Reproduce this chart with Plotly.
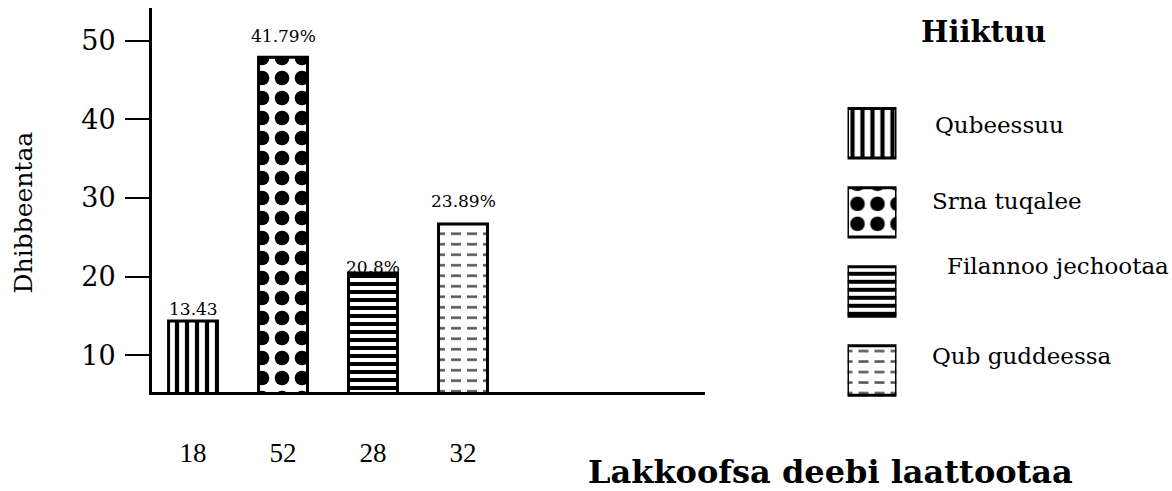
import plotly.graph_objects as go

# ---------------- data ----------------
categories = ["18", "52", "28", "32"]
series_names = ["Qubeessuu", "Srna tuqalee", "Filannoo jechootaa", "Qub guddeessa"]
bar_heights = [14.35, 47.9, 20.45, 26.7]
value_labels = ["13.43", "41.79%", "20.8%", "23.89%"]
y_tick_values = [10, 20, 30, 40, 50]
y_tick_labels = ["10", "20", "30", "40", "50"]
legend_title = "Hiiktuu"
y_title = "Dhibbeentaa"
x_title = "Lakkoofsa deebi laattootaa"

# ---------------- styles / layout helpers ----------------
W, H = 1172, 491


def fx(px):
    return px / W


def fy(py):
    return 1 - py / H


SERIF = "DejaVu Serif"
TIMES = "Liberation Serif"
CLEAR = "rgba(0,0,0,0)"

patterns = [
    dict(shape="|", size=10, solidity=0.42, fgcolor="black", bgcolor="white", fgopacity=1),
    dict(shape=".", size=20, solidity=0.42, fgcolor="black", bgcolor="white", fgopacity=1),
    dict(shape="-", size=8, solidity=0.5, fgcolor="black", bgcolor="white", fgopacity=1),
    dict(shape="-", size=10.5, solidity=0.24, fgcolor="#555555", bgcolor="white", fgopacity=1),
]
# white vertical cuts that turn the last series' lines into short dashes
dash_cut = dict(shape="|", size=16, solidity=0.375, fgcolor="white", bgcolor=CLEAR, fgopacity=1)
dashed = [False, False, False, True]

label_yshift = [12, 21, 6, 23]
legend_label_pos = [(933, 125), (930, 201), (945, 266), (930, 356)]


def bar_marker(i, outline=True):
    return dict(color="white",
                line=dict(color="black", width=3 if outline else 0),
                pattern=patterns[i])


fig = go.Figure()

for i in range(len(categories)):
    fig.add_trace(go.Bar(
        x=[categories[i]], y=[bar_heights[i]], name=series_names[i], width=0.544,
        marker=bar_marker(i, outline=not dashed[i]),
        showlegend=False, hoverinfo="skip", xaxis="x", yaxis="y",
    ))
    if dashed[i]:
        fig.add_trace(go.Bar(
            x=[categories[i]], y=[bar_heights[i]], name=series_names[i], width=0.544,
            marker=dict(color=CLEAR, line=dict(color="black", width=3), pattern=dash_cut),
            showlegend=False, hoverinfo="skip", xaxis="x", yaxis="y",
        ))

# legend swatches (one key box per series)
for i in range(len(series_names)):
    fig.add_trace(go.Bar(
        y=[series_names[i]], x=[1], base=0, orientation="h", width=0.626,
        marker=bar_marker(i, outline=not dashed[i]),
        showlegend=False, hoverinfo="skip", xaxis="x2", yaxis="y2", cliponaxis=False,
    ))
    if dashed[i]:
        fig.add_trace(go.Bar(
            y=[series_names[i]], x=[1], base=0, orientation="h", width=0.626,
            marker=dict(color=CLEAR, line=dict(color="black", width=3), pattern=dash_cut),
            showlegend=False, hoverinfo="skip", xaxis="x2", yaxis="y2", cliponaxis=False,
        ))

annotations = []
for i in range(len(categories)):
    annotations.append(dict(
        x=i, y=bar_heights[i], xref="x", yref="y", text=value_labels[i],
        showarrow=False, yanchor="middle", xanchor="center", yshift=label_yshift[i],
        font=dict(family=SERIF, size=17, color="black"),
    ))

for i, name in enumerate(series_names):
    lx, ly = legend_label_pos[i]
    annotations.append(dict(
        x=fx(lx), y=fy(ly), xref="paper", yref="paper", text=name, showarrow=False,
        xanchor="left", yanchor="middle", font=dict(family=SERIF, size=23, color="black"),
    ))

annotations.append(dict(
    x=fx(984), y=fy(32), xref="paper", yref="paper", text="<b>" + legend_title + "</b>",
    showarrow=False, xanchor="center", yanchor="middle",
    font=dict(family=SERIF, size=29, color="black"),
))
annotations.append(dict(
    x=fx(831), y=fy(472), xref="paper", yref="paper", text="<b>" + x_title + "</b>",
    showarrow=False, xanchor="center", yanchor="middle",
    font=dict(family=SERIF, size=32, color="black"),
))
annotations.append(dict(
    x=fx(22.5), y=fy(213), xref="paper", yref="paper", text=y_title, textangle=-90,
    showarrow=False, xanchor="center", yanchor="middle",
    font=dict(family=SERIF, size=25, color="black"),
))

fig.update_layout(
    template="none",
    width=W, height=H,
    margin=dict(l=0, r=0, t=0, b=0),
    paper_bgcolor="white", plot_bgcolor="white",
    barmode="overlay",
    showlegend=False,
    annotations=annotations,
    xaxis=dict(
        domain=[fx(152), fx(705)], anchor="y", type="category",
        categoryorder="array", categoryarray=categories,
        range=[-0.456, 5.689], showline=True, linecolor="black", linewidth=3,
        ticks="", showgrid=False, zeroline=False, automargin=False,
        tickfont=dict(family=TIMES, size=27, color="black"), ticklabelstandoff=35,
    ),
    yaxis=dict(
        domain=[fy(392), fy(8)], anchor="x", range=[5.32, 54.17],
        tickvals=y_tick_values, ticktext=y_tick_labels,
        ticks="outside", ticklen=24, tickwidth=2, tickcolor="black",
        showline=True, linecolor="black", linewidth=3,
        showgrid=False, zeroline=False, automargin=False,
        tickfont=dict(family=SERIF, size=27, color="black"), ticklabelstandoff=4,
    ),
    xaxis2=dict(domain=[fx(847.5), fx(896.5)], anchor="y2", range=[0, 1], visible=False,
                fixedrange=True),
    yaxis2=dict(domain=[fy(410), fy(93.8)], anchor="x2", type="category",
                categoryorder="array", categoryarray=series_names, range=[3.5, -0.5],
                visible=False, fixedrange=True),
)

fig.write_html("out.html", config={"displayModeBar": False},
               post_script="document.body.style.margin='0';")
